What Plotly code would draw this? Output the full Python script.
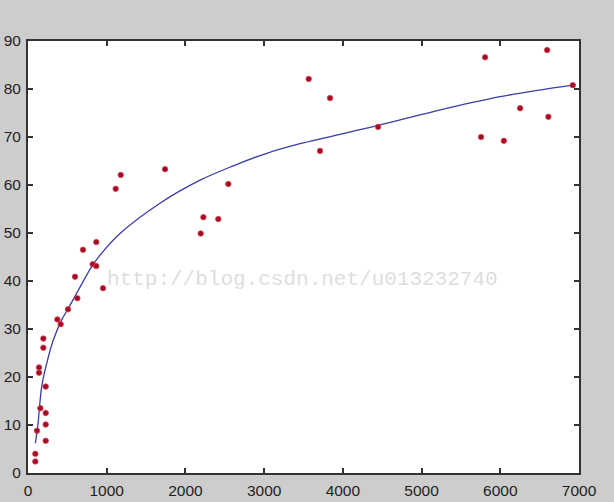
import plotly.graph_objects as go

# scatter data
x_points = [93, 93, 114, 140, 140, 157, 195, 195, 225, 225, 225, 225,
            373, 415, 508, 597, 627, 699, 822, 868, 868, 953,
            1114, 1178, 1741, 2194, 2228, 2418, 2545,
            3566, 3710, 3837, 4447, 5756, 5807, 6045, 6252, 6595, 6611, 6921]
y_points = [2.4, 4.0, 8.8, 20.9, 22.0, 13.5, 26.1, 28.0, 6.7, 10.1, 12.5, 18.0,
            32.0, 31.0, 34.1, 40.9, 36.4, 46.5, 43.5, 43.1, 48.1, 38.5,
            59.2, 62.1, 63.3, 49.9, 53.3, 52.9, 60.2,
            82.1, 67.1, 78.1, 72.1, 70.0, 86.6, 69.2, 76.0, 88.1, 74.2, 80.8]

# fitted curve
x_curve = [93, 123, 174, 237, 322, 428, 512, 640, 809, 915, 1169, 1677,
           2186, 2609, 3033, 3456, 4447, 5150, 6000, 6921]
y_curve = [6.2, 9.6, 18.0, 22.8, 27.7, 31.9, 34.3, 38.1, 43.0, 45.4, 49.9, 56.2,
           61.0, 64.0, 66.6, 68.6, 72.4, 75.3, 78.4, 80.8]

x_ticks = [0, 1000, 2000, 3000, 4000, 5000, 6000, 7000]
y_ticks = [0, 10, 20, 30, 40, 50, 60, 70, 80, 90]

fig = go.Figure()
fig.add_trace(go.Scatter(x=x_curve, y=y_curve, mode="lines", line_shape="spline",
                         line=dict(color="#3c3ca8", width=1.3),
                         showlegend=False, hoverinfo="skip"))
fig.add_trace(go.Scatter(x=x_points, y=y_points, mode="markers",
                         marker=dict(color="#a00d26", size=5.5,
                                     line=dict(width=0.8, color="#e04050")),
                         showlegend=False))

axis_common = dict(showline=True, mirror="ticks", linecolor="#333333", linewidth=2,
                   ticks="inside", ticklen=5, tickwidth=1.5, tickcolor="#333333",
                   showgrid=False, zeroline=False, automargin=False,
                   tickfont=dict(family="Liberation Sans, Arial", size=15.5, color="#1e1e1e"))

fig.update_xaxes(range=[0, 7000], tickvals=x_ticks,
                 ticktext=[str(v) for v in x_ticks], ticklabelstandoff=2, **axis_common)
fig.update_yaxes(range=[0, 90], tickvals=y_ticks,
                 ticktext=[str(v) for v in y_ticks], ticklabelstandoff=2, **axis_common)

fig.add_annotation(text="http://blog.csdn.net/u013232740", xref="paper", yref="paper",
                   x=0.499, y=0.447, showarrow=False,
                   font=dict(family="Liberation Mono, Courier New, monospace", size=21,
                             color="#dedede"))

fig.update_layout(width=614, height=502,
                  margin=dict(l=28, r=35, t=41, b=29),
                  paper_bgcolor="#cdcdcd", plot_bgcolor="white")

fig.write_html("out.html", config={"displayModeBar": False},
               post_script="document.body.style.margin='0';document.body.style.overflow='hidden';")
